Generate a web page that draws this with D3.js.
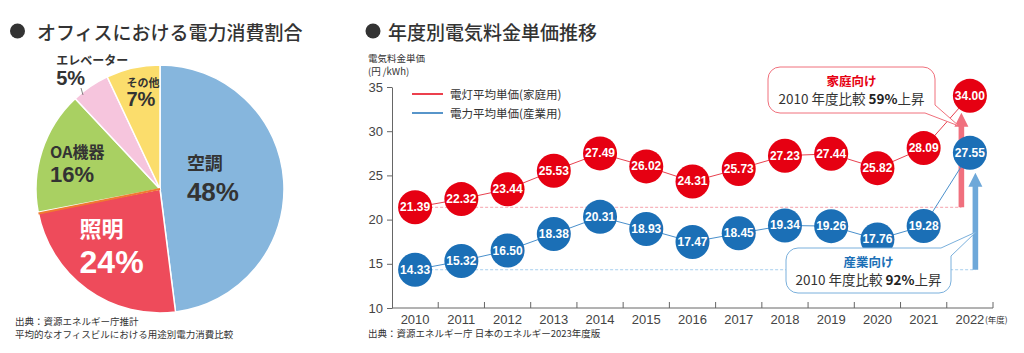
<!DOCTYPE html>
<html>
<head>
<meta charset="utf-8">
<title>オフィスにおける電力消費割合 / 年度別電気料金単価推移</title>
<script src="https://d3js.org/d3.v7.min.js"></script>
<style>
  body { margin: 0; background: #fff; }
  text { font-family: "Noto Sans CJK JP", "Noto Sans", sans-serif; fill: #333; }
</style>
</head>
<body>
<script>
// --- pie data
var pieCategories = ["空調", "照明", "OA機器", "エレベーター", "その他"];
var pieValues = [48, 24, 16, 5, 7];
var pieColors = ["#86b6dd", "#ee4b5b", "#a9d062", "#f6c5dd", "#fbdd6c"];

// --- line chart data
var years = ["2010", "2011", "2012", "2013", "2014", "2015", "2016", "2017", "2018", "2019", "2020", "2021", "2022"];
var homePrice = [21.39, 22.32, 23.44, 25.53, 27.49, 26.02, 24.31, 25.73, 27.23, 27.44, 25.82, 28.09, 34.00];
var industryPrice = [14.33, 15.32, 16.50, 18.38, 20.31, 18.93, 17.47, 18.45, 19.34, 19.26, 17.76, 19.28, 27.55];
var yTicks = [10, 15, 20, 25, 30, 35];

var svg = d3.select("body").append("svg")
    .attr("width", 1024)
    .attr("height", 353);

// ================= left: pie =================
svg.append("circle").attr("cx", 17.5).attr("cy", 31).attr("r", 7.5).attr("fill", "#333");
svg.append("text").attr("x", 37).attr("y", 31).attr("dominant-baseline", "central")
    .attr("font-size", 19).attr("font-weight", 500).text("オフィスにおける電力消費割合");

var pieData = pieCategories.map(function(c, i) { return { name: c, value: pieValues[i], color: pieColors[i] }; });
var pie = d3.pie().sort(null).value(function(d) { return d.value; });
var R = 124;
var arc = d3.arc().innerRadius(0).outerRadius(R);
var pg = svg.append("g").attr("transform", "translate(160,189)");
var arcs = pie(pieData);

pg.selectAll("path").data(arcs).enter().append("path")
    .attr("d", arc)
    .attr("fill", function(d) { return d.data.color; })
    .attr("stroke", "#fff")
    .attr("stroke-width", 1.5);

// thin orange edge between 照明 and OA機器
var edgeA = arcs[1].endAngle;
pg.append("line")
    .attr("x1", 0).attr("y1", 0)
    .attr("x2", Math.sin(edgeA) * R).attr("y2", -Math.cos(edgeA) * R)
    .attr("stroke", "#f07a30").attr("stroke-width", 2)
    .attr("transform", "rotate(-0.6)");

// label layout relative to centroids
var labelStyle = [
    { dx: -35, dy1: -23, dy2: 7,  fs1: 18, fs2: 26, fill: "#333" },
    { dx: -44, dy1: -12, dy2: 23, fs1: 22, fs2: 32, fill: "#fff" },
    { dx: -51, dy1: -19, dy2: 5,  fs1: 16, fs2: 22, fill: "#333" },
    { dx: -69, dy1: -78, dy2: -60, fs1: 12, fs2: 20, fill: "#333" },
    { dx: -20, dy1: -47, dy2: -30, fs1: 11, fs2: 20, fill: "#333" }
];
arcs.forEach(function(d, i) {
    var c = arc.centroid(d), s = labelStyle[i];
    pg.append("text").attr("x", c[0] + s.dx).attr("y", c[1] + s.dy1)
        .attr("dominant-baseline", "central").attr("font-size", s.fs1).attr("font-weight", 700)
        .style("fill", s.fill).text(d.data.name);
    pg.append("text").attr("x", c[0] + s.dx).attr("y", c[1] + s.dy2)
        .attr("dominant-baseline", "central").attr("font-size", s.fs2).attr("font-weight", 700)
        .style("font-family", "'Liberation Sans', sans-serif")
        .style("fill", s.fill).text(d.data.value + "%");
});
// small leader for エレベーター
svg.append("line").attr("x1", 81).attr("y1", 88).attr("x2", 83).attr("y2", 95)
    .attr("stroke", "#666").attr("stroke-width", 0.8);

svg.append("text").attr("x", 15).attr("y", 321).attr("dominant-baseline", "central")
    .attr("font-size", 9.5).text("出典：資源エネルギー庁推計");
svg.append("text").attr("x", 15).attr("y", 334).attr("dominant-baseline", "central")
    .attr("font-size", 9.5).text("平均的なオフィスビルにおける用途別電力消費比較");

// ================= right: line chart =================
svg.append("circle").attr("cx", 373).attr("cy", 31).attr("r", 7.5).attr("fill", "#333");
svg.append("text").attr("x", 388).attr("y", 31).attr("dominant-baseline", "central")
    .attr("font-size", 19).attr("font-weight", 500).text("年度別電気料金単価推移");

svg.append("text").attr("x", 368).attr("y", 58).attr("dominant-baseline", "central")
    .attr("font-size", 9.5).text("電気料金単価");
svg.append("text").attr("x", 368).attr("y", 71).attr("dominant-baseline", "central")
    .attr("font-size", 9.5).text("(円 /kWh)");

var x = d3.scaleBand().domain(years).range([392, 993]);
var y = d3.scaleLinear().domain([10, 35]).range([308, 87]);
var cx = function(yr) { return x(yr) + x.bandwidth() / 2; };

var yAxis = svg.append("g").attr("transform", "translate(392,0)")
    .call(d3.axisLeft(y).tickValues(yTicks).tickSize(5).tickSizeOuter(0).tickPadding(4));
yAxis.selectAll("path, line").attr("stroke", "#666");
yAxis.selectAll("text").attr("font-size", 13).style("font-family", "'Liberation Sans', sans-serif").style("fill", "#444");

// x axis: band boundaries with upward ticks
var xg = svg.append("g");
xg.append("line").attr("x1", 392).attr("x2", 993).attr("y1", 308).attr("y2", 308).attr("stroke", "#666");
xg.selectAll("line.tk").data(years.slice(1).concat(["end"])).enter().append("line")
    .attr("class", "tk")
    .attr("x1", function(d) { return d === "end" ? 993 : x(d); })
    .attr("x2", function(d) { return d === "end" ? 993 : x(d); })
    .attr("y1", 302).attr("y2", 308).attr("stroke", "#666");
xg.selectAll("text").data(years).enter().append("text")
    .attr("x", cx).attr("y", 319).attr("text-anchor", "middle").attr("dominant-baseline", "central")
    .attr("font-size", 13).style("font-family", "'Liberation Sans', sans-serif").style("fill", "#444")
    .text(function(d) { return d; });
svg.append("text").attr("x", 985).attr("y", 319).attr("dominant-baseline", "central")
    .attr("font-size", 8.5).text("(年度)");

svg.append("text").attr("x", 368).attr("y", 333).attr("dominant-baseline", "central")
    .attr("font-size", 9.5).text("出典：資源エネルギー庁 日本のエネルギー2023年度版");

// legend
var legend = [
    { label: "電灯平均単価(家庭用)", color: "#e60012" },
    { label: "電力平均単価(産業用)", color: "#1f72b8" }
];
legend.forEach(function(l, i) {
    var ly = 94 + i * 19;
    svg.append("line").attr("x1", 412).attr("x2", 443).attr("y1", ly).attr("y2", ly)
        .attr("stroke", l.color).attr("stroke-width", 1.5);
    svg.append("text").attr("x", 450).attr("y", ly).attr("dominant-baseline", "central")
        .attr("font-size", 11.5).text(l.label);
});

var last = years[years.length - 1];
var redArrowX = cx(last) - 8.5, blueArrowX = cx(last) + 5.5;

// reference dashed lines at 2010 level
svg.append("line").attr("x1", cx(years[0])).attr("x2", redArrowX)
    .attr("y1", y(homePrice[0])).attr("y2", y(homePrice[0]))
    .attr("stroke", "#f28b97").attr("stroke-dasharray", "3,2").attr("stroke-width", 0.8);
svg.append("line").attr("x1", cx(years[0])).attr("x2", blueArrowX)
    .attr("y1", y(industryPrice[0])).attr("y2", y(industryPrice[0]))
    .attr("stroke", "#92c3ea").attr("stroke-dasharray", "3,2").attr("stroke-width", 0.8);

// rise arrows
function upArrow(ax, yBottom, yTop, color) {
    var hw = 2.8, hh = 7, hl = 14;
    var p = [[ax - hw, yBottom], [ax - hw, yTop + hl], [ax - hh, yTop + hl], [ax, yTop],
             [ax + hh, yTop + hl], [ax + hw, yTop + hl], [ax + hw, yBottom]];
    svg.append("path").attr("d", d3.line()(p) + "Z").attr("fill", color);
}
upArrow(redArrowX, y(homePrice[0]), y(homePrice[12]) + 17, "#f0707e");
upArrow(blueArrowX, y(industryPrice[0]), y(industryPrice[12]) + 20, "#6ea8d9");

// series lines
var line = d3.line().x(function(d, i) { return cx(years[i]); }).y(function(d) { return y(d); });
svg.append("path").attr("d", line(homePrice)).attr("fill", "none").attr("stroke", "#e8414f").attr("stroke-width", 1);
svg.append("path").attr("d", line(industryPrice)).attr("fill", "none").attr("stroke", "#4a90cc").attr("stroke-width", 1);

function dots(values, color) {
    var g = svg.append("g");
    g.selectAll("circle").data(values).enter().append("circle")
        .attr("cx", function(d, i) { return cx(years[i]); })
        .attr("cy", function(d) { return y(d); })
        .attr("r", 17).attr("fill", color);
    g.selectAll("text").data(values).enter().append("text")
        .attr("x", function(d, i) { return cx(years[i]); })
        .attr("y", function(d) { return y(d); })
        .attr("text-anchor", "middle").attr("dominant-baseline", "central")
        .attr("font-size", 12).attr("font-weight", 700)
        .style("font-family", "'Liberation Sans', sans-serif").style("fill", "#fff")
        .text(function(d) { return d.toFixed(2); });
}
dots(homePrice, "#e60012");
dots(industryPrice, "#1b6fb6");

// callouts
function callout(x0, y0, x1, y1, r, tail, stroke, title, titleColor, pct) {
    var d;
    if (tail.corner === "br") {
        d = "M" + (x0 + r) + "," + y0 + " H" + (x1 - r) + " A" + r + "," + r + " 0 0 1 " + x1 + "," + (y0 + r) +
            " V" + (y1 - 8) + " L" + tail.x + "," + tail.y + " L" + (x1 - 10) + "," + y1 +
            " H" + (x0 + r) + " A" + r + "," + r + " 0 0 1 " + x0 + "," + (y1 - r) +
            " V" + (y0 + r) + " A" + r + "," + r + " 0 0 1 " + (x0 + r) + "," + y0 + "Z";
    } else {
        d = "M" + (x0 + r) + "," + y0 + " H" + (x1 - 10) + " L" + tail.x + "," + tail.y + " L" + x1 + "," + (y0 + 8) +
            " V" + (y1 - r) + " A" + r + "," + r + " 0 0 1 " + (x1 - r) + "," + y1 +
            " H" + (x0 + r) + " A" + r + "," + r + " 0 0 1 " + x0 + "," + (y1 - r) +
            " V" + (y0 + r) + " A" + r + "," + r + " 0 0 1 " + (x0 + r) + "," + y0 + "Z";
    }
    svg.append("path").attr("d", d).attr("fill", "#fff").attr("stroke", stroke).attr("stroke-width", 1);
    var mx = (x0 + x1) / 2;
    svg.append("text").attr("x", mx).attr("y", y0 + 13).attr("text-anchor", "middle").attr("dominant-baseline", "central")
        .attr("font-size", 12.5).attr("font-weight", 700).style("fill", titleColor).text(title);
    var t = svg.append("text").attr("x", mx).attr("y", y0 + 31).attr("text-anchor", "middle").attr("dominant-baseline", "central")
        .attr("font-size", 13.5);
    t.append("tspan").text("2010 年度比較 ");
    t.append("tspan").attr("font-weight", 700).style("fill", "#222").text(pct);
    t.append("tspan").text("上昇");
}
callout(768, 67, 935, 113, 12, { corner: "br", x: 959, y: 126 }, "#f0707c", "家庭向け", "#e60012", "59%");
callout(786, 248, 951, 293, 12, { corner: "tr", x: 976, y: 232 }, "#7ab0dc", "産業向け", "#1b6fb6", "92%");
</script>
</body>
</html>
